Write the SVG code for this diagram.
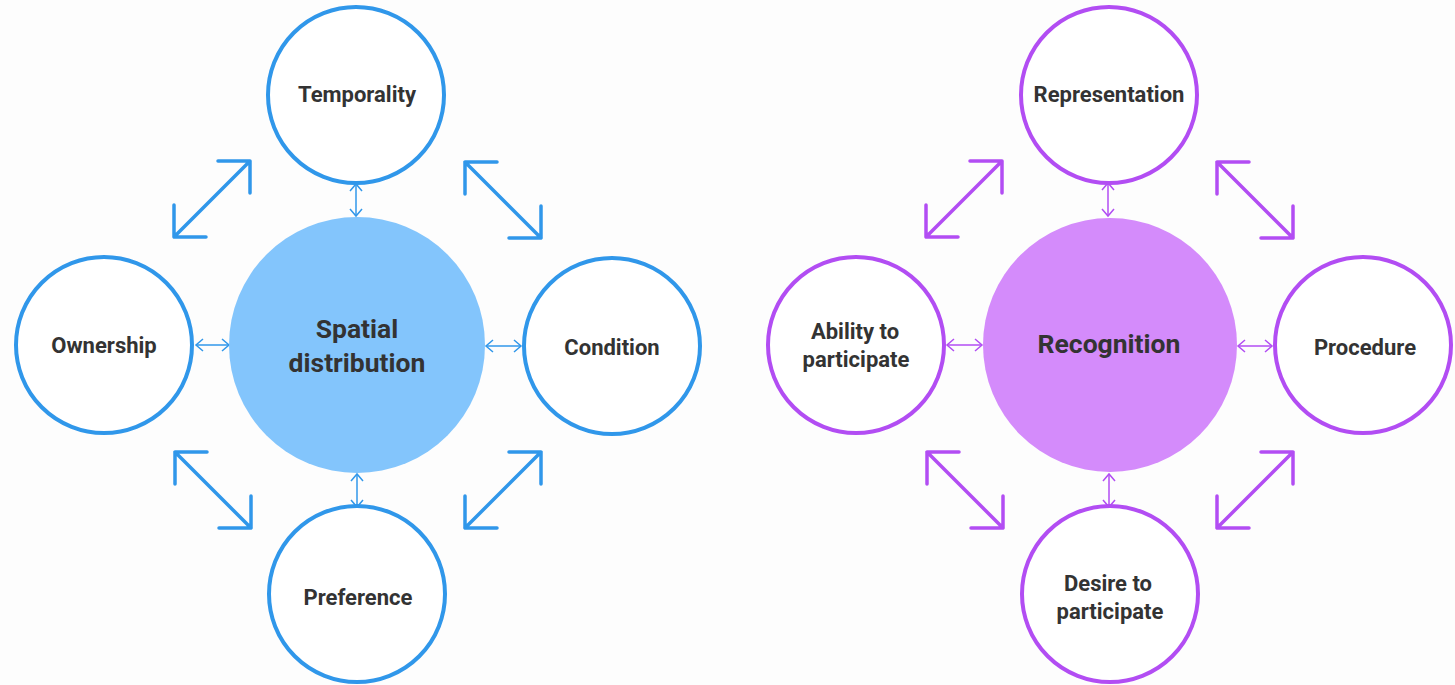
<svg xmlns="http://www.w3.org/2000/svg" width="1455" height="685" viewBox="0 0 1455 685">
<style>
.bg{fill:#fdfdfd}
.nb{fill:#ffffff;stroke:#3097EA;stroke-width:4}
.np{fill:#ffffff;stroke:#B24DF3;stroke-width:4}
.cb{fill:#83C5FC}
.cp{fill:#D48BFB}
.t{font-family:Roboto,"Liberation Sans",sans-serif;font-weight:700;fill:#333333;text-anchor:middle}
.s{font-size:22px}
.l{font-size:26.5px}
.bigb{fill:none;stroke:#3097EA;stroke-width:3.5;stroke-linecap:round;stroke-linejoin:round}
.bigp{fill:none;stroke:#B24DF3;stroke-width:3.5;stroke-linecap:round;stroke-linejoin:round}
.smb{fill:none;stroke:#3097EA;stroke-width:1.5;marker-start:url(#mb);marker-end:url(#mb)}
.smp{fill:none;stroke:#B24DF3;stroke-width:1.5;marker-start:url(#mp);marker-end:url(#mp)}
</style>
<defs>
<marker id="mb" markerUnits="userSpaceOnUse" viewBox="-1 -1 10 14" refX="7" refY="6" markerWidth="10" markerHeight="14" orient="auto-start-reverse" overflow="visible">
<path d="M0,0 L7,6 L0,12" fill="none" stroke="#3097EA" stroke-width="1.5"/>
</marker>
<marker id="mp" markerUnits="userSpaceOnUse" viewBox="-1 -1 10 14" refX="7" refY="6" markerWidth="10" markerHeight="14" orient="auto-start-reverse" overflow="visible">
<path d="M0,0 L7,6 L0,12" fill="none" stroke="#B24DF3" stroke-width="1.5"/>
</marker>
</defs>
<rect class="bg" x="0" y="0" width="1455" height="685"/>

<g id="connectors">
<line class="smb" x1="356" y1="184" x2="356" y2="216"/>
<line class="smb" x1="196" y1="345" x2="229" y2="345"/>
<line class="smb" x1="486" y1="346" x2="521" y2="346"/>
<line class="smb" x1="357" y1="474" x2="357" y2="507"/>
<line class="smp" x1="1108" y1="183" x2="1108" y2="216"/>
<line class="smp" x1="947" y1="345" x2="982" y2="345"/>
<line class="smp" x1="1238" y1="346" x2="1272" y2="346"/>
<line class="smp" x1="1109" y1="474" x2="1109" y2="507"/>
<path class="bigb" d="M174,237 L250,161 M218,161 L250,161 L250,193 M174,205 L174,237 L206,237"/>
<path class="bigb" d="M465,162 L541,238 M497,162 L465,162 L465,194 M541,206 L541,238 L509,238"/>
<path class="bigb" d="M175,452 L251,528 M207,452 L175,452 L175,484 M251,496 L251,528 L219,528"/>
<path class="bigb" d="M465,528 L541,452 M509,452 L541,452 L541,484 M465,496 L465,528 L497,528"/>
<path class="bigp" d="M926,237 L1002,161 M970,161 L1002,161 L1002,193 M926,205 L926,237 L958,237"/>
<path class="bigp" d="M1217,162 L1293,238 M1249,162 L1217,162 L1217,194 M1293,206 L1293,238 L1261,238"/>
<path class="bigp" d="M927,452 L1003,528 M959,452 L927,452 L927,484 M1003,496 L1003,528 L971,528"/>
<path class="bigp" d="M1217,528 L1293,452 M1261,452 L1293,452 L1293,484 M1217,496 L1217,528 L1249,528"/>
</g>

<g id="spatial-distribution">
<circle class="cb" cx="357" cy="345" r="128"/>
<text class="t l" x="357" y="338">Spatial</text>
<text class="t l" x="357" y="372">distribution</text>
</g>
<g id="temporality">
<circle class="nb" cx="356" cy="95" r="88"/>
<text class="t s" x="357" y="102">Temporality</text>
</g>
<g id="ownership">
<circle class="nb" cx="104" cy="345" r="88"/>
<text class="t s" x="104" y="353">Ownership</text>
</g>
<g id="condition">
<circle class="nb" cx="612" cy="346" r="88"/>
<text class="t s" x="612" y="355">Condition</text>
</g>
<g id="preference">
<circle class="nb" cx="357" cy="594" r="88"/>
<text class="t s" x="358" y="605">Preference</text>
</g>

<g id="recognition">
<circle class="cp" cx="1110" cy="345" r="127"/>
<text class="t l" x="1109" y="353">Recognition</text>
</g>
<g id="representation">
<circle class="np" cx="1109" cy="95" r="88"/>
<text class="t s" x="1109" y="102">Representation</text>
</g>
<g id="ability-to-participate">
<circle class="np" cx="856" cy="345" r="88"/>
<text class="t s" x="855" y="339">Ability to</text>
<text class="t s" x="856" y="367">participate</text>
</g>
<g id="procedure">
<circle class="np" cx="1363" cy="345" r="88"/>
<text class="t s" x="1365" y="355">Procedure</text>
</g>
<g id="desire-to-participate">
<circle class="np" cx="1110" cy="594" r="88"/>
<text class="t s" x="1108" y="591">Desire to</text>
<text class="t s" x="1110" y="619">participate</text>
</g>
</svg>
